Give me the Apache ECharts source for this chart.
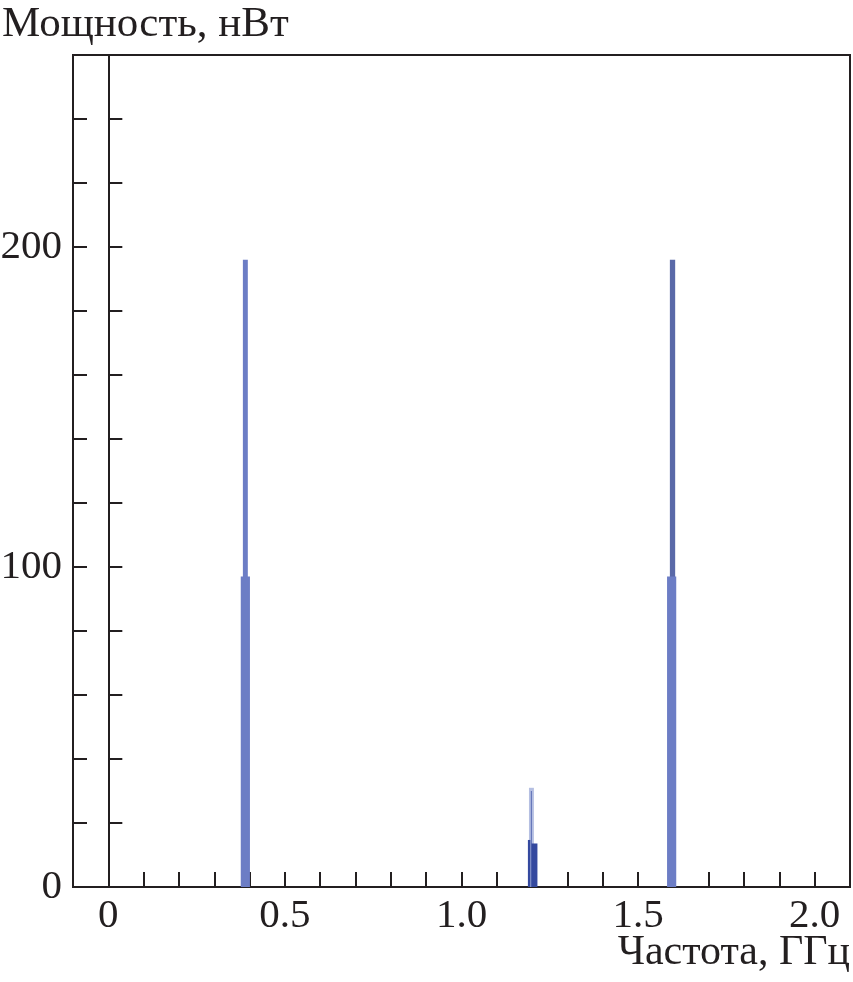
<!DOCTYPE html>
<html>
<head>
<meta charset="utf-8">
<script src="https://cdn.jsdelivr.net/npm/echarts@6/dist/echarts.min.js"></script>
<style>
html,body{margin:0;padding:0;background:#fff;}
#chart{width:853px;height:982px;}
</style>
</head>
<body>
<div id="chart"></div>
<script>
// Frequency axis (GHz) and power axis (nW)
const xMin = -0.1, xMax = 2.1, xStep = 0.1;
const yMin = 0, yMax = 260, yStep = 20;
const xLabelValues = [0, 0.5, 1.0, 1.5, 2.0];
const yLabelValues = [0, 100, 200];

// Spectral bands: [start GHz, end GHz, power nW]
const mainPeaks = [[0.381, 0.395, 196], [0.375, 0.401, 97], [1.582, 1.608, 97]];
const mainPeakTop = [[1.590, 1.605, 196]];
const harmonicLight = [[1.191, 1.205, 31]];
const harmonicDark = [[1.188, 1.195, 14.7], [1.1965, 1.1985, 30], [1.198, 1.215, 13.6]];

const axisColor = '#231f20';
const fontFamily = '"Liberation Serif", "DejaVu Serif", serif';
const fs = 41;

function renderBand(params, api) {
  const p0 = api.coord([api.value(0), 0]);
  const p1 = api.coord([api.value(1), api.value(2)]);
  return {
    type: 'rect',
    shape: { x: p0[0], y: p1[1], width: p1[0] - p0[0], height: p0[1] - p1[1] },
    style: api.style()
  };
}

function xFmt(v) {
  const r = Math.round(v * 10);
  for (const lv of xLabelValues) {
    if (Math.round(lv * 10) === r) return r === 0 ? '0' : lv.toFixed(1);
  }
  return '';
}
function yFmt(v) {
  const r = Math.round(v);
  return yLabelValues.indexOf(r) >= 0 ? String(r) : '';
}

const chart = echarts.init(document.getElementById('chart'), null, { renderer: 'canvas' });
const bandSeries = (name, data, color) => ({
  type: 'custom', name, data, renderItem: renderBand,
  encode: { x: [0, 1], y: 2 }, clip: true,
  itemStyle: { color }, silent: true
});

chart.setOption({
  animation: false,
  backgroundColor: '#ffffff',
  title: [
    { text: 'Мощность, нВт', left: 2, top: 3, padding: 0,
      textStyle: { fontFamily, fontSize: 43, fontWeight: 'normal', color: axisColor } },
    { text: 'Частота, ГГц', right: 3, top: 932, padding: 0,
      textStyle: { fontFamily, fontSize: 42, fontWeight: 'normal', color: axisColor } }
  ],
  grid: { left: 73, right: 3, top: 55, bottom: 95, containLabel: false, outerBoundsMode: 'none',
    show: true, borderColor: axisColor, borderWidth: 2, backgroundColor: 'transparent' },
  xAxis: {
    type: 'value', min: xMin, max: xMax, interval: xStep,
    axisLine: { show: true, onZero: false, lineStyle: { color: axisColor, width: 2 } },
    axisTick: { show: true, inside: true, length: 15, lineStyle: { color: axisColor, width: 2 } },
    axisLabel: { formatter: xFmt, margin: 9, fontFamily, fontSize: fs, color: axisColor, showMinLabel: true, showMaxLabel: true },
    splitLine: { show: false }
  },
  yAxis: [
    {
      type: 'value', min: yMin, max: yMax, interval: yStep, position: 'left',
      axisLine: { show: true, onZero: true, lineStyle: { color: axisColor, width: 2 } },
      axisTick: { show: true, inside: true, length: 14, lineStyle: { color: axisColor, width: 2 } },
      axisLabel: { formatter: yFmt, margin: 11, fontFamily, fontSize: fs, color: axisColor },
      splitLine: { show: false }
    },
    {
      type: 'value', min: yMin, max: yMax, interval: yStep, position: 'left',
      axisLine: { show: true, onZero: false, lineStyle: { color: axisColor, width: 2 } },
      axisTick: { show: true, inside: true, length: 14, lineStyle: { color: axisColor, width: 2 } },
      axisLabel: { show: false },
      splitLine: { show: false }
    }
  ],
  series: [
    bandSeries('peak-top', mainPeakTop, '#5a69a8'),
    bandSeries('peaks', mainPeaks, '#6c7dc5'),
    bandSeries('harmonic-light', harmonicLight, '#b5bfe2'),
    bandSeries('harmonic-dark', harmonicDark, '#34499f')
  ]
});
</script>
</body>
</html>
